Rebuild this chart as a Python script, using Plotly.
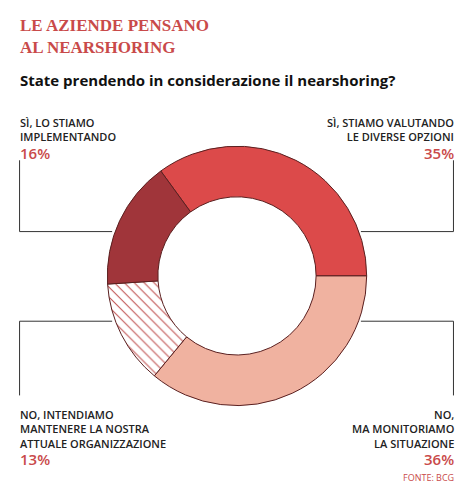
import plotly.graph_objects as go

labels = ["SÌ, STIAMO VALUTANDO LE DIVERSE OPZIONI", "NO, MA MONITORIAMO LA SITUAZIONE",
          "NO, INTENDIAMO MANTENERE LA NOSTRA ATTUALE ORGANIZZAZIONE", "SÌ, LO STIAMO IMPLEMENTANDO"]
values = [35, 36, 13, 16]
colors = ["#dc4a4a", "#f0b2a0", "#ffffff", "#a0353a"]
patterns = ["", "", "\\", ""]

W, H = 475, 496
fig = go.Figure(go.Pie(
    labels=labels, values=values, sort=False, direction="clockwise", rotation=-36,
    hole=0.61, textinfo="none", hoverinfo="label+percent",
    marker=dict(colors=colors, line=dict(color="#5a2020", width=1),
                pattern=dict(shape=patterns, fgcolor="#c05050", bgcolor="#ffffff", size=7, solidity=0.15)),
    domain=dict(x=[103/W, 372/W], y=[83/H, 353/H]),
))

def px(x): return x / W
def py(y): return 1 - y / H

shapes = []
for (x0, y0, x1, y1) in [(12, 232, 108, 232), (12, 158, 12, 232), (366, 232, 462, 232), (462, 158, 462, 232),
                         (12, 325, 108, 325), (12, 325, 12, 402), (366, 325, 462, 325), (462, 325, 462, 402)]:
    shapes.append(dict(type="line", xref="paper", yref="paper", x0=px(x0), y0=py(y0), x1=px(x1), y1=py(y1),
                       line=dict(color="#333", width=1)))

red = "#c94a4a"
lab = dict(family="Open Sans, sans-serif", size=11, color="#222", weight=600)
pct = dict(family="Open Sans, sans-serif", size=15, color=red, weight=600)
anns = [
    dict(x=px(10), y=py(6), text="<b>LE AZIENDE PENSANO<br>AL NEARSHORING</b>", xanchor="left", yanchor="top", align="left",
         font=dict(family="Liberation Serif, serif", size=17, color=red)),
    dict(x=px(10), y=py(62), text="<b>State prendendo in considerazione il nearshoring?</b>", xanchor="left", yanchor="top",
         font=dict(family="Open Sans, sans-serif", size=15, color="#111")),
    dict(x=px(10), y=py(109), text="SÌ, LO STIAMO<br>IMPLEMENTANDO", xanchor="left", yanchor="top", align="left", font=lab),
    dict(x=px(10), y=py(138), text="16%", xanchor="left", yanchor="top", font=pct),
    dict(x=px(465), y=py(109), text="SÌ, STIAMO VALUTANDO<br>LE DIVERSE OPZIONI", xanchor="right", yanchor="top", align="right", font=lab),
    dict(x=px(465), y=py(138), text="35%", xanchor="right", yanchor="top", font=pct),
    dict(x=px(10), y=py(412), text="NO, INTENDIAMO<br>MANTENERE LA NOSTRA<br>ATTUALE ORGANIZZAZIONE", xanchor="left", yanchor="top", align="left", font=lab),
    dict(x=px(10), y=py(456), text="13%", xanchor="left", yanchor="top", font=pct),
    dict(x=px(465), y=py(412), text="NO,<br>MA MONITORIAMO<br>LA SITUAZIONE", xanchor="right", yanchor="top", align="right", font=lab),
    dict(x=px(465), y=py(456), text="36%", xanchor="right", yanchor="top", font=pct),
    dict(x=px(465), y=py(478), text="FONTE: BCG", xanchor="right", yanchor="top", font=dict(family="Open Sans, sans-serif", size=9, color=red)),
]
for a in anns:
    a.update(xref="paper", yref="paper", showarrow=False)

# slightly smaller than the window so no scrollbars appear
fig.update_layout(width=458, height=478, margin=dict(l=0, r=0, t=0, b=0), showlegend=False,
                  paper_bgcolor="white", plot_bgcolor="white", shapes=shapes, annotations=anns)
fig.write_html("out.html")
